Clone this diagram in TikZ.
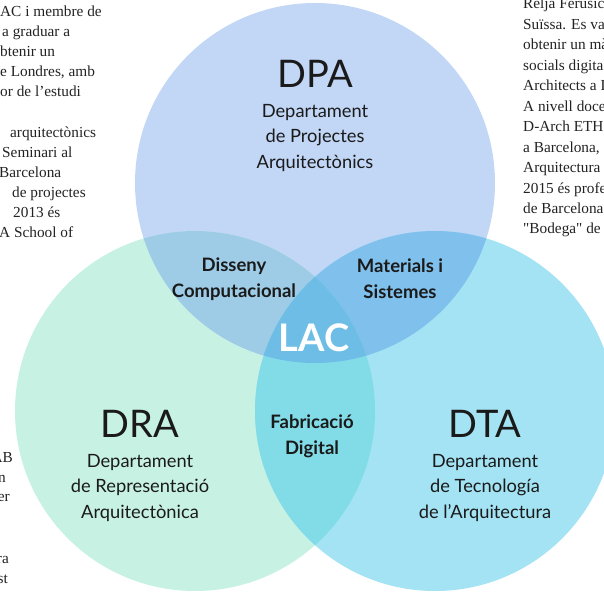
\documentclass[tikz,border=0pt]{standalone}
\usepackage{fontspec}
\setmainfont{Lato}
\newfontfamily\bgserif{Liberation Serif}
\definecolor{cA}{HTML}{C2D6F6}
\definecolor{cR}{HTML}{C7F2E3}
\definecolor{cT}{HTML}{A3E3F3}
\definecolor{cAR}{HTML}{9ECCE6}
\definecolor{cAT}{HTML}{80C0EC}
\definecolor{cRT}{HTML}{82DCE8}
\definecolor{cART}{HTML}{6EBDE6}
\definecolor{ink}{HTML}{1A1A1A}
\definecolor{bgink}{HTML}{222222}
\tikzset{
  big/.style={font=\fontsize{38}{40}\selectfont, text=ink},
  sub/.style={font=\fontsize{18.3}{25.5}\selectfont, text=ink, align=center},
  inter/.style={font=\fontsize{18.5}{26}\selectfont\bfseries, text=ink, align=center},
  lac/.style={font=\fontsize{38}{40}\selectfont\bfseries, text=white},
  bgl/.style={font=\bgserif\fontsize{15.3}{16}\selectfont, text=bgink, anchor=base west, inner sep=0pt},
  bge/.style={font=\bgserif\fontsize{15.3}{16}\selectfont, text=bgink, anchor=base east, inner sep=0pt},
  bgr/.style={font=\bgserif\fontsize{15.3}{16}\selectfont, text=bgink, anchor=base west, inner sep=0pt},
}
\begin{document}
\begin{tikzpicture}[x=1pt,y=-1pt]
\useasboundingbox (0,0) rectangle (604,593);
\clip (0,0) rectangle (604,593);
\coordinate (A) at (315,183);
\coordinate (R) at (195,411);
\coordinate (T) at (435,411);
\def\rr{180}
% circles
\fill[cA] (A) circle (\rr);
\fill[cR] (R) circle (\rr);
\fill[cT] (T) circle (\rr);
\begin{scope}\clip (A) circle (\rr); \fill[cAR] (R) circle (\rr); \end{scope}
\begin{scope}\clip (A) circle (\rr); \fill[cAT] (T) circle (\rr); \end{scope}
\begin{scope}\clip (R) circle (\rr); \fill[cRT] (T) circle (\rr); \end{scope}
\begin{scope}\clip (A) circle (\rr); \clip (R) circle (\rr); \fill[cART] (T) circle (\rr); \end{scope}
% background text left
\node[bgl] (l1) at (0,16.5) {AC i membre de};
\node[bgl] (l2) at (2,36.6) {a graduar a};
\node[bgl] (l3) at (0,56.7) {btenir un};
\node[bgl] (l4) at (0,76.8) {e Londres, amb};
\node[bgl] (l5) at (0,96.9) {or de l’estudi};
\node[bgl] (l6) at (10,137.1) {arquitectònics};
\node[bgl] (l7) at (2,157.2) {Seminari al};
\node[bgl] (l8) at (-1,177.3) {Barcelona};
\node[bgl] (l9) at (12,197.4) {de projectes};
\node[bgl] (l10) at (13,217.5) {2013 és};
\node[bgl] (l11) at (-1,237.6) {A School of};
\node[bge] (l12) at (13,462) {AB};
\node[bge] (l13) at (6,482) {n};
\node[bge] (l14) at (10,501) {er};
\node[bge] (l15) at (9,563) {ra};
\node[bge] (l16) at (8,583) {st};
% background text right
\node[bgr] (r1) at (523,9) {Relja Ferusic};
\node[bgr] (r2) at (523,29.5) {Suïssa. Es va};
\node[bgr] (r3) at (523,49.9) {obtenir un màster};
\node[bgr] (r4) at (523,70.4) {socials digitals};
\node[bgr] (r5) at (523,90.8) {Architects a Londres};
\node[bgr] (r6) at (523,111.3) {A nivell docent};
\node[bgr] (r7) at (523,131.7) {D-Arch ETH};
\node[bgr] (r8) at (523,152.2) {a Barcelona,};
\node[bgr] (r9) at (523,172.6) {Arquitectura};
\node[bgr] (r10) at (523,193.1) {2015 és professor};
\node[bgr] (r11) at (523,213.5) {de Barcelona};
\node[bgr] (r12) at (523,234) {"Bodega" de};
% labels
\node[big] (dpa) at (315,74) {DPA};
\node[sub] (dpas) at (315,138) {Departament\\de Projectes\\Arquitectònics};
\node[big] (dra) at (140,424) {DRA};
\node[sub] (dras) at (140,488) {Departament\\de Representació\\Arquitectònica};
\node[big] (dta) at (485,424) {DTA};
\node[sub] (dtas) at (485,488) {Departament\\de Tecnología\\de l’Arquitectura};
\node[inter] (dc) at (234,279) {Disseny\\Computacional};
\node[inter] (ms) at (400,279) {Materials i\\Sistemes};
\node[inter] (fd) at (312,436) {Fabricació\\Digital};
\node[lac] (lac) at (314,338) {LAC};
\end{tikzpicture}
\end{document}
